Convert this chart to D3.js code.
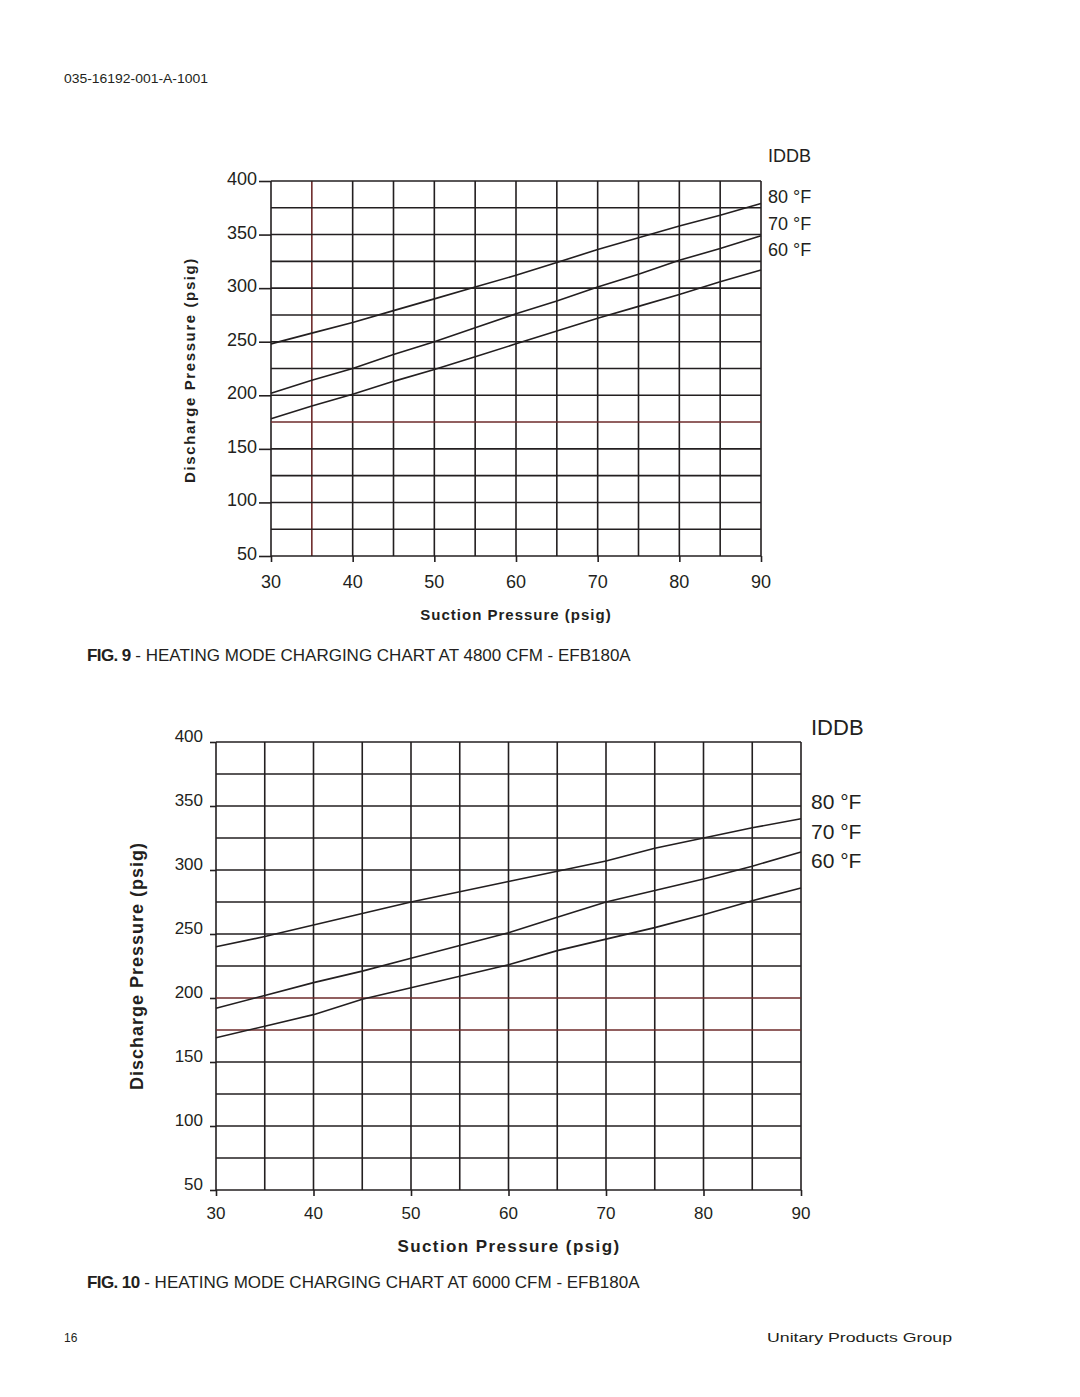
<!DOCTYPE html>
<html><head><meta charset="utf-8">
<script src="https://cdn.jsdelivr.net/npm/d3@7"></script>
<style>
body{margin:0;background:#fff;}
svg{display:block;font-family:"Liberation Sans",Arial,sans-serif;}
</style></head>
<body>
<svg id="c" width="1080" height="1397"></svg>
<script>
// ---- data ----
const suction = [30,35,40,45,50,55,60,65,70,75,80,85,90];
const xTickLabels = [30,40,50,60,70,80,90];
const yTickLabels = [50,100,150,200,250,300,350,400];
const legendLabels = ["80 °F","70 °F","60 °F"];
// Fig 9 (4800 CFM)
const fig9_80 = [248,258,268,279,290,301,312,324,336,347,358,368,379];
const fig9_70 = [202,214,225,238,250,263,276,288,301,313,326,337,349];
const fig9_60 = [178,190,201,213,224,236,248,260,272,283,294,306,317];
// Fig 10 (6000 CFM)
const fig10_80 = [240,248,257,266,275,283,291,299,307,317,325,333,340];
const fig10_70 = [192,202,212,221,231,241,251,263,275,284,293,303,314];
const fig10_60 = [169,178,187,199,208,217,226,237,246,255,265,276,286];

const svg = d3.select("#c");
const GRID = "#231f20", RED = "#6e2b2b";

// header / footer
svg.append("text").attr("x",64).attr("y",83).attr("font-size",12).attr("fill","#231f20")
  .attr("textLength",144).attr("lengthAdjust","spacingAndGlyphs").text("035-16192-001-A-1001");
svg.append("text").attr("x",64).attr("y",1342).attr("font-size",12).attr("fill","#231f20").text("16");
svg.append("text").attr("x",952).attr("y",1342).attr("font-size",13).attr("text-anchor","end").attr("fill","#231f20")
  .attr("textLength",185).attr("lengthAdjust","spacingAndGlyphs").text("Unitary Products Group");

function chart(o){
  const x = d3.scaleLinear().domain([30,90]).range([o.x0,o.x1]);
  const y = d3.scaleLinear().domain([50,400]).range([o.y0,o.y1]);
  const g = svg.append("g");
  // grid
  const xs = d3.range(30,90.1,5), ys = d3.range(50,400.1,25);
  g.selectAll(".v").data(xs).join("line")
    .attr("x1",d=>x(d)).attr("x2",d=>x(d)).attr("y1",y(50)).attr("y2",y(400))
    .attr("stroke",d=>o.redX.includes(d)?RED:GRID).attr("stroke-width",1.6);
  g.selectAll(".h").data(ys).join("line")
    .attr("x1",x(30)).attr("x2",x(90)).attr("y1",d=>y(d)).attr("y2",d=>y(d))
    .attr("stroke",d=>o.redY.includes(d)?RED:GRID).attr("stroke-width",1.6);
  // axes (ticks)
  const ya = d3.axisLeft(y).tickValues(yTickLabels).tickSize(o.yTick).tickFormat("");
  g.append("g").attr("transform",`translate(${x(30)},0)`).call(ya)
    .call(s=>{s.select(".domain").remove(); s.selectAll("line").attr("stroke",GRID).attr("stroke-width",1.6);});
  const xa = d3.axisBottom(x).tickValues(xTickLabels).tickSize(o.xTick).tickFormat("");
  g.append("g").attr("transform",`translate(0,${y(50)})`).call(xa)
    .call(s=>{s.select(".domain").remove(); s.selectAll("line").attr("stroke",GRID).attr("stroke-width",1.6);});
  // tick labels
  g.selectAll(".yl").data(yTickLabels).join("text")
    .attr("x",o.yLabX).attr("y",d=>y(d)+o.yLabDy).attr("text-anchor","end")
    .attr("font-size",o.tickFs).attr("fill","#231f20").text(d=>d);
  g.selectAll(".xl").data(xTickLabels).join("text")
    .attr("x",d=>x(d)).attr("y",o.xLabY).attr("text-anchor","middle")
    .attr("font-size",o.tickFs).attr("fill","#231f20").text(d=>d);
  // series
  const line = d3.line().x((d,i)=>x(suction[i])).y(d=>y(d));
  o.series.forEach(s=>{
    g.append("path").attr("d",line(s)).attr("fill","none").attr("stroke","#231f20").attr("stroke-width",1.6);
  });
  // legend
  g.append("text").attr("x",o.legX).attr("y",o.iddbY).attr("font-size",o.iddbFs).attr("fill","#231f20").text("IDDB");
  g.selectAll(".lg").data(legendLabels).join("text")
    .attr("x",o.legX).attr("y",(d,i)=>o.legY+i*o.legStep).attr("font-size",o.legFs).attr("fill","#231f20").text(d=>d);
  // axis titles
  g.append("text").attr("x",o.xtX).attr("y",o.xtY).attr("text-anchor","middle").attr("font-weight","bold")
    .attr("font-size",o.titleFs).attr("letter-spacing",o.xls).attr("fill","#231f20").text("Suction Pressure (psig)");
  g.append("text").attr("transform",`translate(${o.ytX},${o.ytY}) rotate(-90)`).attr("text-anchor","middle")
    .attr("font-weight","bold").attr("font-size",o.ytFs).attr("letter-spacing",o.yls).attr("fill","#231f20")
    .text("Discharge Pressure (psig)");
  // caption
  const cap = svg.append("text").attr("x",87).attr("y",o.capY).attr("font-size",17).attr("fill","#231f20");
  cap.append("tspan").attr("font-weight","bold").attr("letter-spacing",-0.6).text(o.fig);
  cap.append("tspan").text(" - "+o.capText);
}

chart({x0:271,x1:761,y0:556,y1:181,redX:[35],redY:[175],yTick:12,xTick:6,
  yLabX:257,yLabDy:4,xLabY:588,tickFs:18,series:[fig9_80,fig9_70,fig9_60],
  legX:768,iddbY:162,iddbFs:18,legY:203,legStep:26.5,legFs:18,
  xtX:516,xtY:620,titleFs:15,xls:1,ytX:195,ytY:370,ytFs:15,yls:1.6,
  capY:661,fig:"FIG. 9",capText:"HEATING MODE CHARGING CHART AT 4800 CFM - EFB180A"});

chart({x0:216,x1:801,y0:1190,y1:742,redX:[],redY:[175,200],yTick:6,xTick:6,
  yLabX:203,yLabDy:0,xLabY:1219,tickFs:17,series:[fig10_80,fig10_70,fig10_60],
  legX:811,iddbY:735,iddbFs:22,legY:809,legStep:29.5,legFs:21,
  xtX:509,xtY:1252,titleFs:17,xls:1.4,ytX:143,ytY:966,ytFs:18,yls:1,
  capY:1288,fig:"FIG. 10",capText:"HEATING MODE CHARGING CHART AT 6000 CFM - EFB180A"});
</script>
</body></html>
